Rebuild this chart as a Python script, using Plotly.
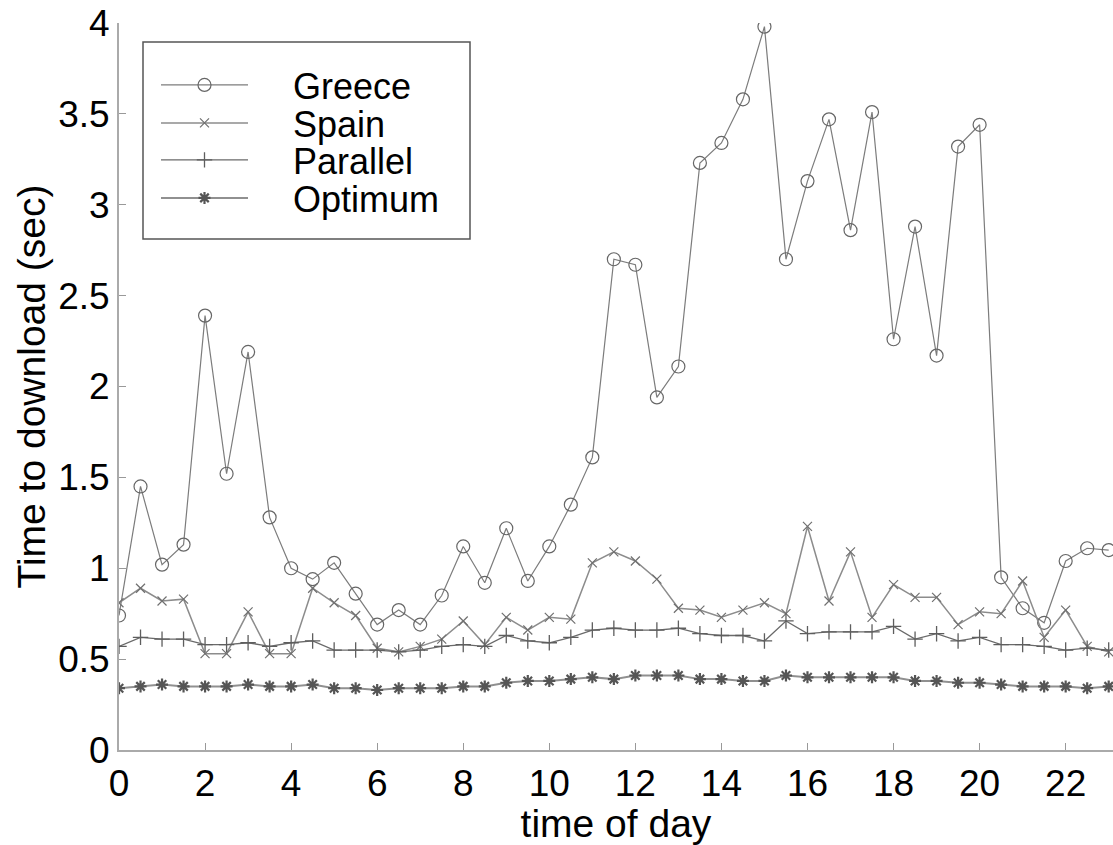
import plotly.graph_objects as go

hours = [i * 0.5 for i in range(47)]

greece = [0.74, 1.45, 1.02, 1.13, 2.39, 1.52, 2.19, 1.28, 1.00, 0.94, 1.03, 0.86, 0.69, 0.77, 0.69, 0.85,
          1.12, 0.92, 1.22, 0.93, 1.12, 1.35, 1.61, 2.70, 2.67, 1.94, 2.11, 3.23, 3.34, 3.58, 3.98, 2.70,
          3.13, 3.47, 2.86, 3.51, 2.26, 2.88, 2.17, 3.32, 3.44, 0.95, 0.78, 0.70, 1.04, 1.11, 1.10]
spain = [0.81, 0.89, 0.82, 0.83, 0.53, 0.53, 0.76, 0.53, 0.53, 0.89, 0.81, 0.74, 0.56, 0.54, 0.57, 0.61,
         0.71, 0.58, 0.73, 0.66, 0.73, 0.72, 1.03, 1.09, 1.04, 0.94, 0.78, 0.77, 0.73, 0.77, 0.81, 0.75,
         1.23, 0.82, 1.09, 0.73, 0.91, 0.84, 0.84, 0.69, 0.76, 0.75, 0.93, 0.62, 0.77, 0.57, 0.54]
parallel = [0.57, 0.62, 0.61, 0.61, 0.58, 0.58, 0.59, 0.57, 0.59, 0.60, 0.55, 0.55, 0.55, 0.54, 0.55, 0.57,
            0.58, 0.57, 0.63, 0.60, 0.59, 0.62, 0.66, 0.67, 0.66, 0.66, 0.67, 0.64, 0.63, 0.63, 0.60, 0.71,
            0.64, 0.65, 0.65, 0.65, 0.68, 0.61, 0.64, 0.60, 0.62, 0.58, 0.58, 0.57, 0.55, 0.56, 0.55]
optimum = [0.34, 0.35, 0.36, 0.35, 0.35, 0.35, 0.36, 0.35, 0.35, 0.36, 0.34, 0.34, 0.33, 0.34, 0.34, 0.34,
           0.35, 0.35, 0.37, 0.38, 0.38, 0.39, 0.40, 0.39, 0.41, 0.41, 0.41, 0.39, 0.39, 0.38, 0.38, 0.41,
           0.40, 0.40, 0.40, 0.40, 0.40, 0.38, 0.38, 0.37, 0.37, 0.36, 0.35, 0.35, 0.35, 0.34, 0.35]

series_names = ["Greece", "Spain", "Parallel", "Optimum"]
x_ticks = list(range(0, 23, 2))
y_ticks = [0, 0.5, 1, 1.5, 2, 2.5, 3, 3.5, 4]
y_tick_text = ["0", "0.5", "1", "1.5", "2", "2.5", "3", "3.5", "4"]

FONT = "Liberation Sans, Arial, sans-serif"
W, H = 1113, 845
ML, MR, MT, MB = 119, 0, 23, 95
PW, PH = W - ML - MR, H - MT - MB


def px_to_paper_x(px):
    return (px - ML) / PW


def px_to_paper_y(py):
    return (H - MB - py) / PH


styles = [
    dict(line=dict(color="#7c7c7c", width=1.2),
         marker=dict(symbol="circle-open", size=13, color="#666666", line=dict(width=1.2))),
    dict(line=dict(color="#8c8c8c", width=1.5),
         marker=dict(symbol="x-thin-open", size=9, color="#707070", line=dict(width=1.2))),
    dict(line=dict(color="#6a6a6a", width=1.3),
         marker=dict(symbol="cross-thin-open", size=11, color="#5e5e5e", line=dict(width=1.3))),
    dict(line=dict(color="#909090", width=2),
         marker=dict(symbol="asterisk-open", size=10, color="#555555", line=dict(width=2.2))),
]
values = [greece, spain, parallel, optimum]
legend_ids = ["legend", "legend2", "legend3", "legend4"]
legend_centers_px = [85, 123, 160, 198]

fig = go.Figure()
for name, vals, st, lid in zip(series_names, values, styles, legend_ids):
    fig.add_trace(go.Scatter(x=hours, y=vals, name="\u00a0\u00a0\u00a0\u00a0" + name,
                             mode="lines+markers", legend=lid, **st))

legend_layout = {}
for lid, cy in zip(legend_ids, legend_centers_px):
    legend_layout[lid] = dict(x=px_to_paper_x(156), y=px_to_paper_y(cy), xanchor="left", yanchor="middle",
                              borderwidth=0, bgcolor="rgba(0,0,0,0)", font=dict(size=36),
                              itemwidth=87)

fig.update_layout(
    width=W, height=H,
    margin=dict(l=ML, r=MR, t=MT, b=MB),
    paper_bgcolor="white", plot_bgcolor="white",
    font=dict(family=FONT, size=37, color="black"),
    showlegend=True,
    shapes=[dict(type="rect", xref="paper", yref="paper",
                 x0=px_to_paper_x(143), x1=px_to_paper_x(470),
                 y0=px_to_paper_y(239), y1=px_to_paper_y(42),
                 line=dict(color="#555555", width=1.5), fillcolor="white", layer="below")],
    xaxis=dict(range=[0, 23.1], tickvals=x_ticks, ticks="inside", ticklen=7, tickcolor="#999999",
               showline=True, linecolor="#aaaaaa", linewidth=2, showgrid=False, zeroline=False,
               tickfont=dict(size=37),
               title=dict(text="time of day", font=dict(size=39), standoff=0)),
    yaxis=dict(range=[0, 4], tickvals=y_ticks, ticktext=y_tick_text, ticks="inside", ticklen=7,
               tickcolor="#999999", showline=True, linecolor="#aaaaaa", linewidth=2, showgrid=False,
               zeroline=False, tickfont=dict(size=37),
               title=dict(text="Time to download (sec)", font=dict(size=39), standoff=1)),
    **legend_layout,
)

fig.write_html("out.html")
